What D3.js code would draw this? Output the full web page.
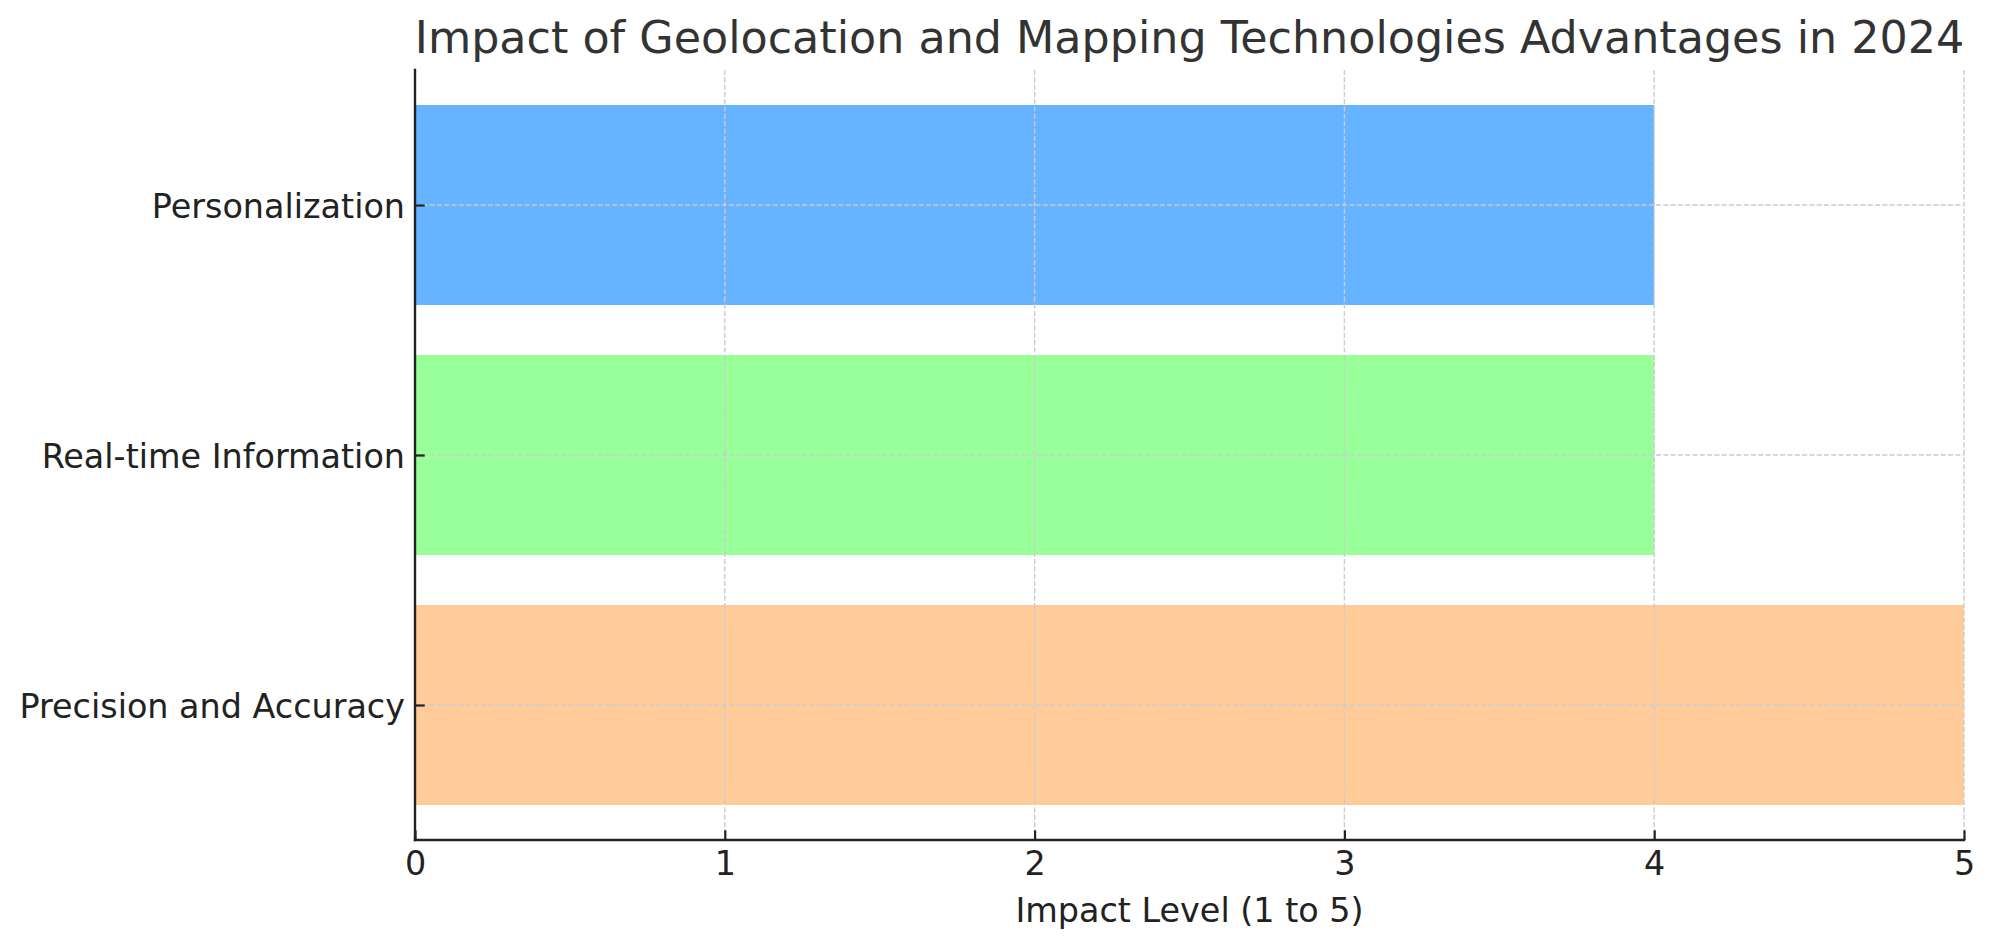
<!DOCTYPE html>
<html>
<head>
<meta charset="utf-8">
<script src="https://cdn.jsdelivr.net/npm/d3@7"></script>
<style>
  html, body { margin: 0; padding: 0; background: #fff; }
  svg { display: block; }
  text { font-family: "DejaVu Sans", sans-serif; }
</style>
</head>
<body>
<svg id="chart" width="1995" height="947"></svg>
<script>
// chart values, bottom to top as drawn
var categories = ["Precision and Accuracy", "Real-time Information", "Personalization"];
var impact = [5, 4, 4];
var barColors = ["#ffcc99", "#99ff99", "#66b3ff"];
var xTicks = [0, 1, 2, 3, 4, 5];
var title = "Impact of Geolocation and Mapping Technologies Advantages in 2024";
var xLabel = "Impact Level (1 to 5)";

var W = 1995, H = 947;
var margin = { left: 415, right: W - 1964, top: 70, bottom: H - 840 };
var plotW = W - margin.left - margin.right;
var plotH = H - margin.top - margin.bottom;
var labelSize = "33.4px";

var svg = d3.select("#chart");
var g = svg.append("g").attr("transform", "translate(" + margin.left + "," + margin.top + ")");

var x = d3.scaleLinear().domain([0, 5]).range([0, plotW]);
// matplotlib-like barh layout: bars at 0..n-1, height 0.8, 5% margins
var n = categories.length;
var lo = -0.4, hi = n - 1 + 0.4, pad = (hi - lo) * 0.05;
var y = d3.scaleLinear().domain([lo - pad, hi + pad]).range([plotH, 0]);
var barH = 0.8;

// bars
g.selectAll("rect.bar")
    .data(impact)
    .enter().append("rect")
    .attr("class", "bar")
    .attr("x", x(0))
    .attr("y", function (d, i) { return y(i + barH / 2); })
    .attr("width", function (d) { return x(d) - x(0); })
    .attr("height", function (d, i) { return y(i - barH / 2) - y(i + barH / 2); })
    .style("fill", function (d, i) { return barColors[i]; });

// grid on top of bars
var grid = g.append("g").attr("class", "grid")
    .style("stroke", "#cccccc")
    .style("stroke-width", 1.4)
    .style("stroke-dasharray", "5.1,2.2");
grid.selectAll("line.vx")
    .data(xTicks)
    .enter().append("line")
    .attr("x1", function (d) { return x(d); })
    .attr("x2", function (d) { return x(d); })
    .attr("y1", 0)
    .attr("y2", plotH);
grid.selectAll("line.hy")
    .data(categories)
    .enter().append("line")
    .attr("x1", 0)
    .attr("x2", plotW)
    .attr("y1", function (d, i) { return y(i); })
    .attr("y2", function (d, i) { return y(i); });

// x axis
var xAxis = d3.axisBottom(x).tickValues(xTicks).tickFormat(d3.format("d"))
    .tickSizeInner(-9.7).tickSizeOuter(0).tickPadding(9.7);
var gx = g.append("g").attr("transform", "translate(0," + plotH + ")").call(xAxis);
gx.select(".domain").remove();
gx.selectAll(".tick line").attr("stroke", "#222").attr("stroke-width", 2.2);
gx.selectAll(".tick text")
    .attr("y", 35).attr("dy", null)
    .style("font-size", labelSize).style("fill", "#222");

// y axis
var yAxis = d3.axisLeft(y).tickValues(d3.range(n)).tickFormat(function (i) { return categories[i]; })
    .tickSizeInner(-9.7).tickSizeOuter(0).tickPadding(9.7);
var gy = g.append("g").call(yAxis);
gy.select(".domain").remove();
gy.selectAll(".tick line").attr("stroke", "#222").attr("stroke-width", 2.2);
gy.selectAll(".tick text")
    .attr("x", -10).attr("dy", "0.36em")
    .style("font-size", labelSize).style("fill", "#222");

// spines
g.append("line").attr("x1", 0).attr("x2", 0).attr("y1", 0).attr("y2", plotH)
    .attr("stroke", "#222").attr("stroke-width", 2.4).attr("stroke-linecap", "square");
g.append("line").attr("x1", 0).attr("x2", plotW).attr("y1", plotH).attr("y2", plotH)
    .attr("stroke", "#222").attr("stroke-width", 2.4).attr("stroke-linecap", "square");

// labels
svg.append("text")
    .attr("x", margin.left + plotW / 2).attr("y", 922)
    .attr("text-anchor", "middle")
    .style("font-size", labelSize).style("fill", "#222")
    .text(xLabel);

svg.append("text")
    .attr("x", margin.left + plotW / 2).attr("y", 53)
    .attr("text-anchor", "middle")
    .style("font-size", "44.4px").style("fill", "#333")
    .text(title);
</script>
</body>
</html>
